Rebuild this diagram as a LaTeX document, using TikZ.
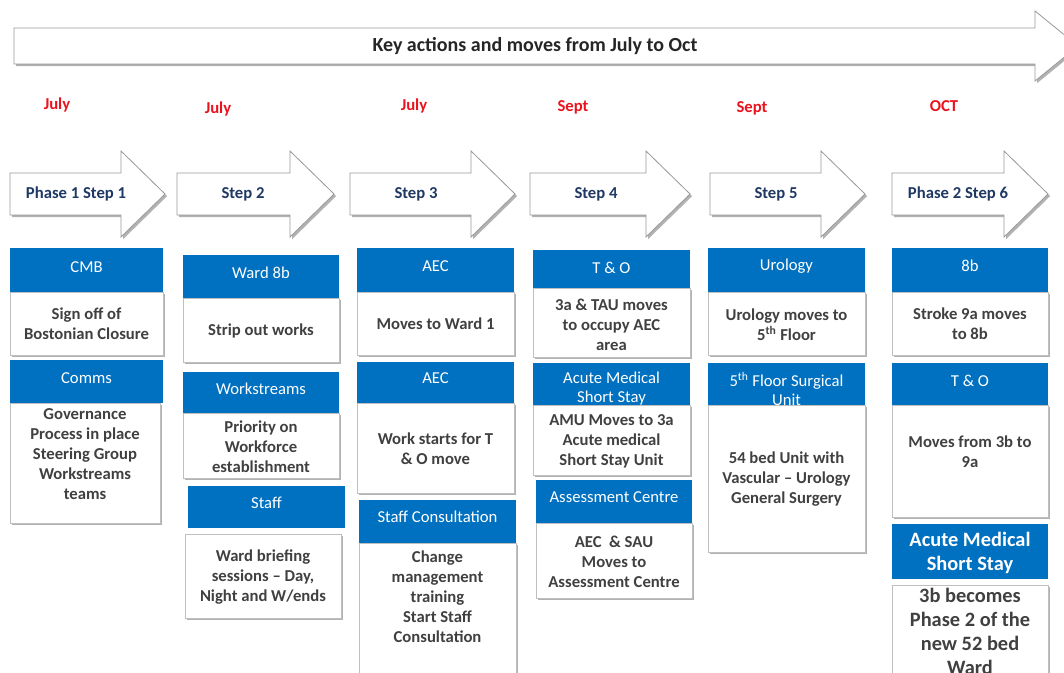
\documentclass[tikz,border=0pt]{standalone}
\usepackage{fontspec}
\setmainfont{Carlito}
\usetikzlibrary{shadows}
\definecolor{hdrblue}{RGB}{0,112,192}
\definecolor{stepnavy}{RGB}{31,56,100}
\definecolor{cardgray}{RGB}{64,64,64}
\definecolor{monthred}{RGB}{235,20,30}
\tikzset{
  softshadow/.style={drop shadow={shadow xshift=1.6pt, shadow yshift=-1.6pt, fill=black, opacity=0.3}},
  arrowshape/.style={draw=black!40, fill=white, line width=0.6pt, softshadow},
  titlelabel/.style={font=\fontsize{15}{17}\selectfont\bfseries, text=black!85},
  steplabel/.style={font=\fontsize{12.5}{14}\selectfont\bfseries, text=stepnavy},
  monthlabel/.style={font=\fontsize{12.5}{14}\selectfont\bfseries, text=monthred},
  hdrbox/.style={fill=hdrblue},
  hdrlabel/.style={font=\fontsize{12.5}{14.2}\selectfont, text=white, align=center},
  bighdrlabel/.style={font=\fontsize{15.3}{18}\selectfont\bfseries, text=white, align=center},
  cardbox/.style={draw=black!25, fill=white, line width=0.5pt, softshadow},
  cardlabel/.style={font=\fontsize{12.5}{15}\selectfont\bfseries, text=cardgray, align=center},
  bigcardlabel/.style={font=\fontsize{15.3}{18}\selectfont\bfseries, text=cardgray, align=center}
}
\newcommand\steparrow[4]{%
  \path[arrowshape] (#2,173) -- (#3,173) -- (#3,151) -- ({#3+44},194) -- (#3,237) -- (#3,215) -- (#2,215) -- cycle;
  \node[steplabel] (#1) at ({#2+66},194) {#4};}
\newcommand\hdr[8][hdrlabel]{%
  \path[hdrbox] (#3,#4) rectangle (#5,#6);
  \node[#1] (#2) at ({(#3+#5)/2},#7) {#8};}
\newcommand\card[8][cardlabel]{%
  \path[cardbox] (#3,#4) rectangle (#5,#6);
  \node[#1] (#2) at ({(#3+#5)/2},#7) {#8};}

\begin{document}
\begin{tikzpicture}[x=0.75pt, y=-0.75pt]
\useasboundingbox (0,0) rectangle (1064,673);
\fill[white] (0,0) rectangle (1064,673);

\path[arrowshape] (14,28) -- (1035,28) -- (1035,11) -- (1078,46) -- (1035,81) -- (1035,64) -- (14,64) -- cycle;
\node[titlelabel] (title) at (535,46) {Key actions and moves from July to Oct};

\node[monthlabel] (m1) at (57,105) {July};
\node[monthlabel] (m2) at (218,109) {July};
\node[monthlabel] (m3) at (414,106) {July};
\node[monthlabel] (m4) at (573,107) {Sept};
\node[monthlabel] (m5) at (752,108) {Sept};
\node[monthlabel] (m6) at (944,106) {OCT};

\steparrow{s1}{10}{121}{Phase 1 Step 1}
\steparrow{s2}{177}{290}{Step 2}
\steparrow{s3}{350}{471}{Step 3}
\steparrow{s4}{530}{646}{Step 4}
\steparrow{s5}{710}{821}{Step 5}
\steparrow{s6}{892}{1004}{Phase 2 Step 6}

\hdr{h1a}{10}{248}{163}{292}{267}{CMB}
\card{c1a}{10}{292}{163}{355}{324}{Sign off of\\Bostonian Closure}
\hdr{h1b}{10}{360}{163}{403}{378}{Comms}
\card{c1b}{10}{403}{160}{523}{454}{Governance\\Process in place\\Steering Group\\Workstreams\\teams}

\hdr{h2a}{183}{255}{339}{298}{273}{Ward 8b}
\card{c2a}{183}{298}{339}{362}{331}{Strip out works}
\hdr{h2b}{183}{372}{339}{413}{389}{Workstreams}
\card{c2b}{183}{413}{339}{478}{447}{Priority on\\Workforce\\establishment}
\hdr{h2c}{188}{486}{345}{528}{503}{Staff}
\card{c2c}{185}{534}{341}{618}{577}{Ward briefing\\sessions -- Day,\\Night and W/ends}

\hdr{h3a}{357}{248}{514}{292}{266}{AEC}
\card{c3a}{357}{292}{514}{355}{324}{Moves to Ward 1}
\hdr{h3b}{357}{362}{514}{403}{378}{AEC}
\card{c3b}{357}{403}{514}{493}{449}{Work starts for T\\\& O move}
\hdr{h3c}{359}{500}{516}{543}{517}{Staff Consultation}
\card{c3c}{359}{543}{516}{700}{597}{Change\\management\\training\\Start Staff\\Consultation}

\hdr{h4a}{533}{250}{690}{288}{268}{T \& O}
\card{c4a}{533}{288}{690}{357}{325}{3a \& TAU moves\\to occupy AEC\\area}
\hdr{h4b}{533}{363}{690}{405}{389}{Acute Medical\\Short Stay}
\card{c4b}{533}{405}{690}{475}{441}{AMU Moves to 3a\\Acute medical\\Short Stay Unit}
\hdr{h4c}{536}{480}{692}{523}{497}{Assessment Centre}
\card{c4c}{536}{523}{692}{598}{562}{AEC~ \& SAU\\Moves to\\Assessment Centre}

\hdr{h5a}{708}{248}{865}{292}{266}{Urology}
\card{c5a}{708}{292}{865}{355}{325}{Urology moves to\\5\textsuperscript{th} Floor}
\hdr{h5b}{708}{363}{865}{405}{389}{5\textsuperscript{th} Floor Surgical\\Unit}
\card{c5b}{708}{405}{865}{552}{479}{54 bed Unit with\\Vascular -- Urology\\General Surgery}

\hdr{h6a}{892}{248}{1048}{292}{266}{8b}
\card{c6a}{892}{292}{1048}{355}{324}{Stroke 9a moves\\to 8b}
\hdr{h6b}{892}{363}{1048}{405}{381}{T \& O}
\card{c6b}{892}{405}{1048}{517}{452}{Moves from 3b to\\9a}
\hdr[bighdrlabel]{h6c}{892}{524}{1048}{579}{553}{Acute Medical\\Short Stay}
\card[bigcardlabel]{c6c}{892}{585}{1048}{700}{631}{3b becomes\\Phase 2 of the\\new 52 bed\\Ward}
\end{tikzpicture}
\end{document}
